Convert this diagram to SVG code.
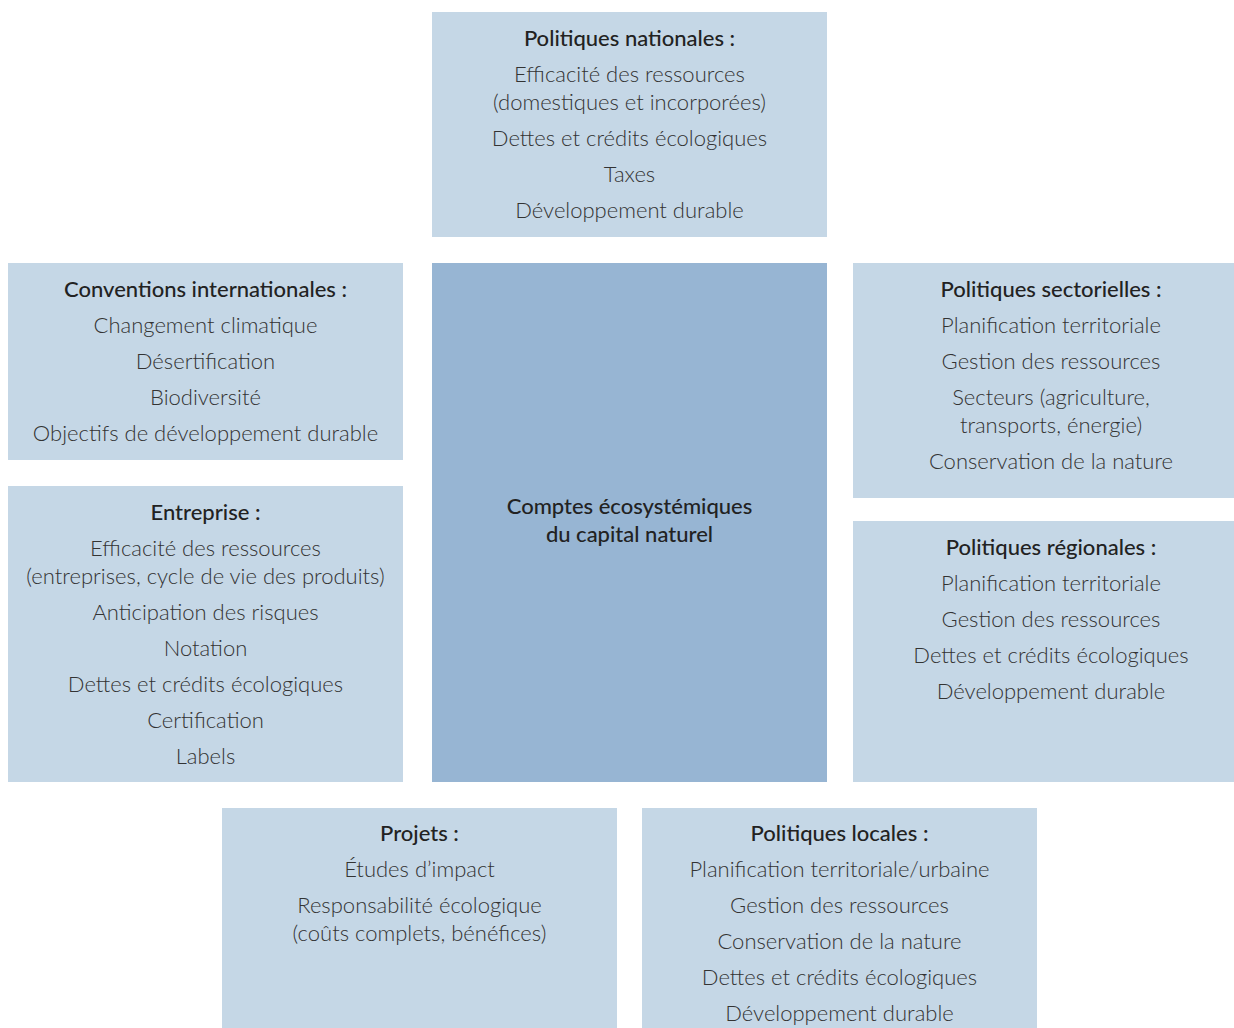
<svg xmlns="http://www.w3.org/2000/svg" width="1234" height="1028" viewBox="0 0 1234 1028">
<style>
.box{fill:#c5d7e6}
.core{fill:#97b5d3}
text{font-family:"Lato","Open Sans","Liberation Sans",sans-serif;text-anchor:middle;font-size:22px;fill:#333333;font-weight:300}
.h{font-weight:500;fill:#222222}
</style>
<rect width="1234" height="1028" fill="#ffffff"/>
<g id="connectors"></g>
<g id="nationales">
<rect class="box" x="432" y="12" width="395" height="225"/>
<text class="h" x="629.5" y="46">Politiques nationales :</text>
<text x="629.5" y="82">Efficacité des ressources</text>
<text x="629.5" y="110">(domestiques et incorporées)</text>
<text x="629.5" y="146">Dettes et crédits écologiques</text>
<text x="629.5" y="182">Taxes</text>
<text x="629.5" y="218">Développement durable</text>
</g>
<g id="conventions">
<rect class="box" x="8" y="263" width="395" height="197"/>
<text class="h" x="205.5" y="297">Conventions internationales :</text>
<text x="205.5" y="333">Changement climatique</text>
<text x="205.5" y="369">Désertification</text>
<text x="205.5" y="405">Biodiversité</text>
<text x="205.5" y="441">Objectifs de développement durable</text>
</g>
<g id="entreprise">
<rect class="box" x="8" y="486" width="395" height="296"/>
<text class="h" x="205.5" y="520">Entreprise :</text>
<text x="205.5" y="556">Efficacité des ressources</text>
<text x="205.5" y="584">(entreprises, cycle de vie des produits)</text>
<text x="205.5" y="620">Anticipation des risques</text>
<text x="205.5" y="656">Notation</text>
<text x="205.5" y="692">Dettes et crédits écologiques</text>
<text x="205.5" y="728">Certification</text>
<text x="205.5" y="764">Labels</text>
</g>
<g id="comptes">
<rect class="core" x="432" y="263" width="395" height="519"/>
<text class="h" x="629.5" y="514">Comptes écosystémiques</text>
<text class="h" x="629.5" y="542">du capital naturel</text>
</g>
<g id="sectorielles">
<rect class="box" x="853" y="263" width="381" height="235"/>
<text class="h" x="1051" y="297">Politiques sectorielles :</text>
<text x="1051" y="333">Planification territoriale</text>
<text x="1051" y="369">Gestion des ressources</text>
<text x="1051" y="405">Secteurs (agriculture,</text>
<text x="1051" y="433">transports, énergie)</text>
<text x="1051" y="469">Conservation de la nature</text>
</g>
<g id="regionales">
<rect class="box" x="853" y="521" width="381" height="261"/>
<text class="h" x="1051" y="555">Politiques régionales :</text>
<text x="1051" y="591">Planification territoriale</text>
<text x="1051" y="627">Gestion des ressources</text>
<text x="1051" y="663">Dettes et crédits écologiques</text>
<text x="1051" y="699">Développement durable</text>
</g>
<g id="projets">
<rect class="box" x="222" y="808" width="395" height="220"/>
<text class="h" x="419.5" y="841">Projets :</text>
<text x="419.5" y="877">Études d’impact</text>
<text x="419.5" y="913">Responsabilité écologique</text>
<text x="419.5" y="941">(coûts complets, bénéfices)</text>
</g>
<g id="locales">
<rect class="box" x="642" y="808" width="395" height="220"/>
<text class="h" x="839.5" y="841">Politiques locales :</text>
<text x="839.5" y="877">Planification territoriale/urbaine</text>
<text x="839.5" y="913">Gestion des ressources</text>
<text x="839.5" y="949">Conservation de la nature</text>
<text x="839.5" y="985">Dettes et crédits écologiques</text>
<text x="839.5" y="1021">Développement durable</text>
</g>
</svg>
